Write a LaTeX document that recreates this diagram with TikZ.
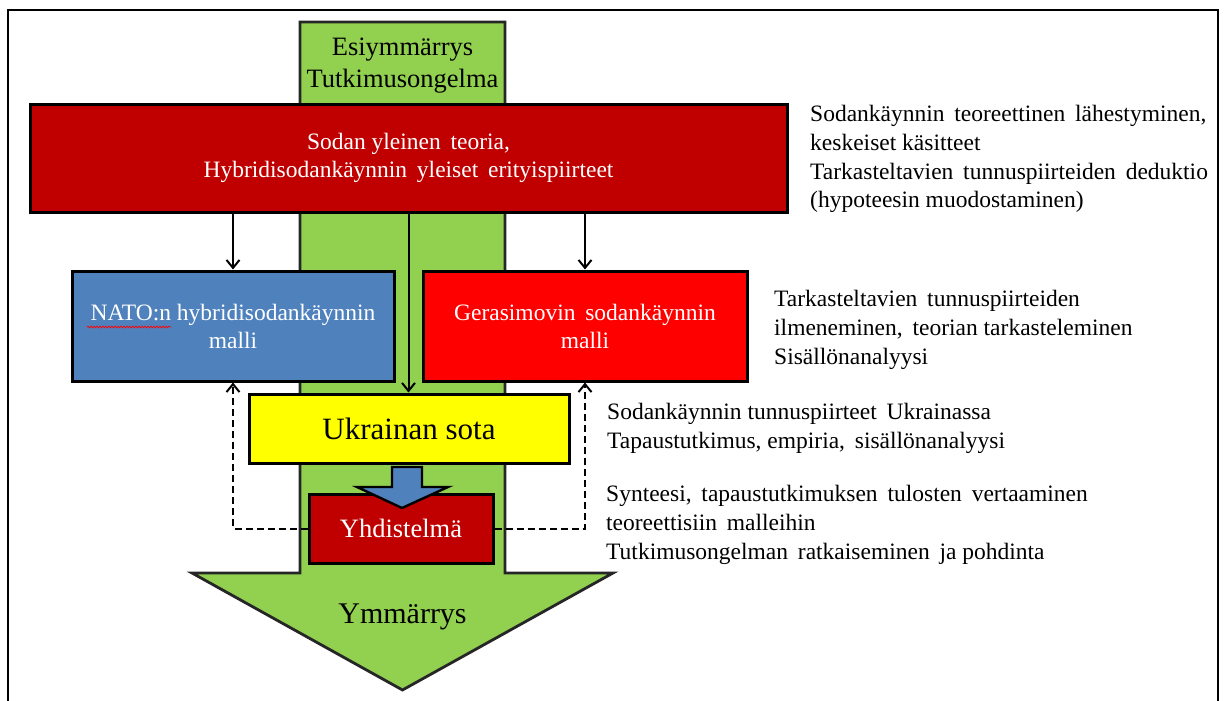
\documentclass[tikz,border=0pt]{standalone}
\usepackage{fontspec}
\setmainfont{Liberation Serif}
\usetikzlibrary{arrows.meta,decorations.pathmorphing}
\definecolor{lgreen}{HTML}{92D050}
\definecolor{dred}{HTML}{C00000}
\definecolor{oblue}{HTML}{4F81BD}
\definecolor{bred}{HTML}{FF0000}
\definecolor{yel}{HTML}{FFFF00}
\begin{document}
\begin{tikzpicture}[x=1pt,y=-1pt,
  box/.style={draw=black, line width=3pt, inner sep=0pt, align=center},
  boxtext/.style={font=\fontsize{23.5}{28}\selectfont},
  side/.style={anchor=west, align=left, inner sep=0pt, font=\fontsize{23.5}{28.8}\selectfont},
  arr/.style={line width=2pt, -{Straight Barb[length=8pt,width=13pt]}},
  darr/.style={line width=2pt, dash pattern=on 7pt off 4pt, -{Straight Barb[length=8pt,width=13pt]}}]
\useasboundingbox (0,0) rectangle (1229,701);
% frame
\draw[line width=1.8pt] (8,703) -- (8,10) -- (1218,10) -- (1218,703);
% big green arrow
\filldraw[fill=lgreen, draw=black!85, line width=2.8pt]
  (300,22) -- (505,22) -- (505,573) -- (613,573) -- (402.5,690) -- (192,573) -- (300,573) -- cycle;
\node[align=center, inner sep=0pt, font=\fontsize{26.5}{32}\selectfont] (pre) at (402.5,66) {Esiymmärrys\\Tutkimusongelma};
\node[inner sep=0pt, font=\fontsize{30}{36}\selectfont] (und) at (402.5,617) {Ymmärrys};
% boxes
\node[box, boxtext, fill=dred, text=white, minimum width=757pt, minimum height=108pt] (theory) at (408.5,158)
  {Sodan yleinen\, teoria,\\Hybridisodankäynnin\, yleiset\, erityispiirteet};
\node[box, boxtext, fill=oblue, text=white, minimum width=322pt, minimum height=110pt] (nato) at (233,326)
  {NATO:n hybridisodankäynnin\\malli};
\node[box, boxtext, fill=bred, text=white, minimum width=324pt, minimum height=110pt] (gera) at (585,326)
  {Gerasimovin\, sodankäynnin\\malli};
\node[box, fill=yel, font=\fontsize{31}{36}\selectfont, minimum width=320pt, minimum height=69pt] (ukr) at (409,428.5)
  {Ukrainan sota};
\node[box, fill=dred, text=white, font=\fontsize{26.5}{32}\selectfont, minimum width=184pt, minimum height=69pt] (yhd) at (401,528.5)
  {Yhdistelmä};
% spell-check underline
\draw[red, line width=0.7pt, decorate, decoration={snake, amplitude=0.9pt, segment length=3pt}] (87,327) -- (171,327);
% block arrow
\filldraw[fill=oblue, draw=black, line width=2.4pt]
  (392,467) -- (422,467) -- (422,487) -- (448,487) -- (402,508) -- (357,487) -- (392,487) -- cycle;
% connectors
\draw[arr] (theory.south -| nato.north) -- (nato.north);
\draw[arr] (theory.south -| gera.north) -- (gera.north);
\draw[arr] (theory.south) -- (theory.south |- ukr.north);
\draw[darr] (yhd.west) -| (nato.south);
\draw[darr] (yhd.east) -| (gera.south);
% side texts
\node[side] (t1) at (810,159) {Sodankäynnin\, teoreettinen\, lähestyminen,\\keskeiset käsitteet\\Tarkasteltavien\, tunnuspiirteiden\, deduktio\\(hypoteesin muodostaminen)};
\node[side] (t2) at (774,330) {Tarkasteltavien\, tunnuspiirteiden\\ilmeneminen,\, teorian tarkasteleminen\\Sisällönanalyysi};
\node[side] (t3) at (607,428.5) {Sodankäynnin tunnuspiirteet\, Ukrainassa\\Tapaustutkimus, empiria,\, sisällönanalyysi};
\node[side] (t4) at (606,525) {Synteesi,\, tapaustutkimuksen\, tulosten\, vertaaminen\\teoreettisiin\, malleihin\\Tutkimusongelman\, ratkaiseminen\, ja pohdinta};
\end{tikzpicture}
\end{document}
